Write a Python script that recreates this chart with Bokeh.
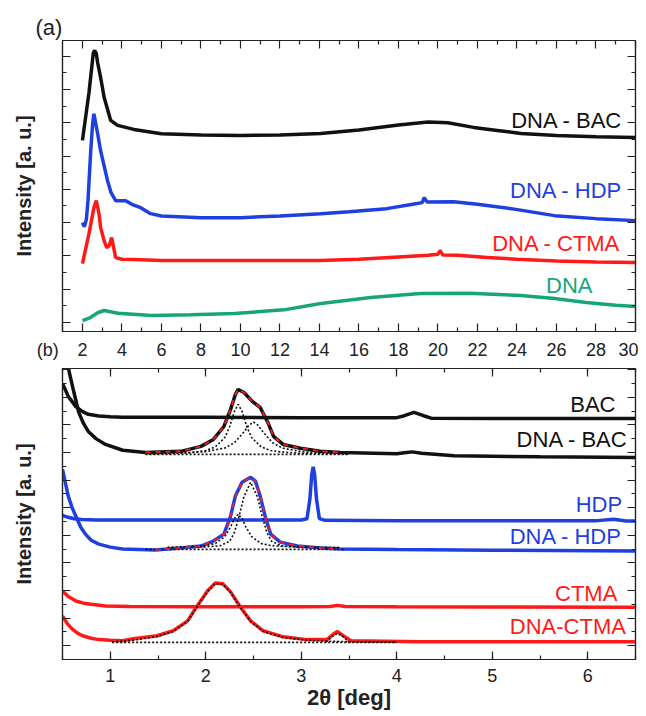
from bokeh.plotting import figure
from bokeh.models import Range1d, LinearAxis, SingleIntervalTicker, FixedTicker, ColumnDataSource
from bokeh.layouts import column
from bokeh.embed import file_html
from bokeh.resources import INLINE
from bokeh.core.properties import value

FONT = "Liberation Sans"
BLACK = "#111111"
BLUE = "#1f3fe0"
RED = "#ff1a1a"
GREEN = "#18a57a"
AX = "#222222"

# ---------------- Panel (a) data ----------------
bac_a_x = [2.0, 2.33, 2.55, 2.62, 2.7, 2.77, 2.92, 3.1, 3.43, 3.78, 4.6, 6.0, 8.0, 10.0, 12.0, 14.06, 16.0, 18.0, 19.5, 20.5, 21.8, 23.0, 24.2, 26.0, 28.0, 30.0]
bac_a_y = [5.47, 6.9, 8.1, 8.17, 8.08, 7.8, 7.36, 6.76, 6.07, 5.92, 5.8, 5.67, 5.63, 5.62, 5.63, 5.68, 5.78, 5.93, 6.02, 6.0, 5.86, 5.77, 5.68, 5.62, 5.58, 5.56]

hdp_a_x = [2.0, 2.1, 2.2, 2.28, 2.42, 2.52, 2.58, 2.65, 2.77, 2.92, 3.1, 3.27, 3.45, 3.68, 3.95, 4.19, 4.5, 4.95, 5.45, 6.0, 8.0, 10.0, 12.0, 14.06, 15.5, 17.4, 18.8, 19.2, 19.3, 19.45, 20.8, 22.0, 23.7, 25.9, 28.0, 30.0]
hdp_a_y = [3.0, 2.88, 3.1, 3.66, 5.16, 6.0, 6.27, 6.05, 5.67, 5.16, 4.7, 4.26, 3.9, 3.66, 3.66, 3.66, 3.55, 3.45, 3.27, 3.2, 3.15, 3.15, 3.2, 3.27, 3.33, 3.42, 3.56, 3.6, 3.75, 3.62, 3.63, 3.55, 3.42, 3.21, 3.12, 3.06]

ctma_a_x = [2.0, 2.33, 2.58, 2.7, 2.83, 2.92, 3.1, 3.23, 3.35, 3.48, 3.58, 3.68, 4.0, 4.6, 6.0, 8.0, 10.0, 12.0, 14.0, 16.0, 18.0, 19.5, 20.0, 20.1, 20.25, 21.0, 22.5, 24.0, 26.0, 28.0, 30.0]
ctma_a_y = [1.77, 2.67, 3.45, 3.66, 3.3, 2.85, 2.45, 2.25, 2.3, 2.55, 2.25, 1.95, 1.9, 1.89, 1.86, 1.86, 1.86, 1.86, 1.86, 1.9, 1.97, 2.02, 2.05, 2.16, 2.03, 2.02, 1.95, 1.9, 1.85, 1.82, 1.80]

dna_a_x = [2.0, 2.4, 2.8, 3.1, 3.8, 5.5, 7.5, 9.7, 12.2, 14.06, 16.6, 19.1, 21.6, 24.2, 25.9, 27.5, 29.0, 30.0]
dna_a_y = [0.06, 0.15, 0.3, 0.36, 0.28, 0.21, 0.23, 0.27, 0.38, 0.57, 0.75, 0.87, 0.88, 0.81, 0.72, 0.6, 0.52, 0.48]

labels_a_text = ["DNA - BAC", "DNA - HDP", "DNA - CTMA", "DNA"]
labels_a_x = [29.34, 29.34, 29.24, 27.82]
labels_a_y = [6.07, 3.96, 2.37, 1.11]
labels_a_color = [BLACK, BLUE, RED, GREEN]

xticks_a = [2, 4, 6, 8, 10, 12, 14, 16, 18, 20, 22, 24, 26, 28, 30]
panel_a_label = "(a)"
panel_b_label = "(b)"

# ---------------- Panel (b) data ----------------
bac_b_x = [0.5, 0.56, 0.64, 0.71, 0.77, 0.88, 1.0, 1.13, 2.0, 3.0, 4.0, 4.08, 4.18, 4.28, 4.36, 5.0, 6.0, 6.5]
bac_b_y = [9.5, 9.03, 8.66, 8.48, 8.38, 8.32, 8.29, 8.27, 8.27, 8.26, 8.26, 8.33, 8.45, 8.33, 8.24, 8.23, 8.23, 8.23]

dna_bac_b_x = [0.52, 0.56, 0.62, 0.67, 0.72, 0.77, 0.85, 0.95, 1.13, 1.37, 1.74, 1.95, 2.08, 2.19, 2.26, 2.31, 2.34, 2.4, 2.49, 2.57, 2.65, 2.71, 2.81, 2.99, 3.2, 3.41, 4.0, 4.08, 4.16, 4.26, 4.6, 5.5, 6.5]
dna_bac_b_y = [11.5, 10.07, 9.17, 8.45, 8.05, 7.76, 7.5, 7.29, 7.08, 7.0, 7.04, 7.22, 7.47, 7.94, 8.56, 9.1, 9.28, 9.17, 8.84, 8.63, 8.09, 7.58, 7.29, 7.15, 7.04, 7.0, 6.95, 6.99, 7.02, 6.97, 6.88, 6.84, 6.82]

bac_c1_x = [1.4, 1.7, 1.9, 2.0, 2.1, 2.2, 2.25, 2.3, 2.34, 2.38, 2.43, 2.48, 2.58, 2.68, 2.78, 2.98, 3.3, 3.5]
bac_c1_y = [6.95, 6.97, 7.02, 7.07, 7.2, 7.54, 7.93, 8.49, 8.74, 8.49, 7.93, 7.54, 7.2, 7.07, 7.02, 6.97, 6.95, 6.95]
bac_c2_x = [1.4, 1.8, 2.0, 2.2, 2.3, 2.4, 2.45, 2.5, 2.55, 2.6, 2.7, 2.8, 3.0, 3.2, 3.5]
bac_c2_y = [6.95, 6.98, 7.03, 7.16, 7.35, 7.74, 7.98, 8.1, 7.98, 7.74, 7.35, 7.16, 7.03, 6.98, 6.96]
bac_base_x = [1.37, 3.5]
bac_base_y = [6.93, 6.93]

hdp_b_x = [0.5, 0.55, 0.62, 0.7, 0.85, 1.2, 2.0, 3.0, 3.06, 3.09, 3.11, 3.125, 3.14, 3.16, 3.19, 3.25, 4.0, 5.0, 6.1, 6.27, 6.4, 6.5]
hdp_b_y = [4.72, 4.66, 4.6, 4.57, 4.55, 4.55, 4.55, 4.55, 4.6, 5.3, 6.2, 6.48, 6.2, 5.3, 4.6, 4.54, 4.53, 4.53, 4.53, 4.58, 4.52, 4.52]

dna_hdp_b_x = [0.5, 0.56, 0.6, 0.64, 0.69, 0.74, 0.8, 0.88, 1.0, 1.13, 1.47, 1.74, 1.95, 2.08, 2.19, 2.26, 2.31, 2.38, 2.47, 2.52, 2.57, 2.63, 2.68, 2.78, 2.96, 3.2, 3.41, 4.0, 5.0, 6.5]
dna_hdp_b_y = [6.39, 5.42, 5.0, 4.69, 4.3, 4.04, 3.82, 3.68, 3.57, 3.5, 3.47, 3.54, 3.61, 3.79, 4.04, 4.69, 5.42, 5.92, 6.1, 5.96, 5.42, 4.58, 4.04, 3.75, 3.61, 3.54, 3.5, 3.48, 3.46, 3.43]

hdp_c1_x = [1.6, 1.9, 2.0, 2.1, 2.2, 2.26, 2.3, 2.34, 2.38, 2.42, 2.48, 2.58, 2.68, 2.78, 3.1, 3.4]
hdp_c1_y = [3.56, 3.6, 3.63, 3.7, 3.95, 4.3, 4.6, 4.77, 4.6, 4.3, 3.95, 3.7, 3.63, 3.6, 3.56, 3.55]
hdp_c2_x = [1.6, 2.0, 2.15, 2.25, 2.3, 2.35, 2.4, 2.47, 2.54, 2.59, 2.64, 2.69, 2.79, 2.94, 3.4]
hdp_c2_y = [3.55, 3.58, 3.62, 3.78, 4.1, 4.7, 5.4, 5.92, 5.4, 4.7, 4.1, 3.78, 3.62, 3.58, 3.55]
hdp_base_x = [1.37, 3.45]
hdp_base_y = [3.49, 3.49]

ctma_b_x = [0.5, 0.56, 0.64, 0.72, 0.8, 0.95, 1.2, 2.0, 3.0, 3.3, 3.38, 3.46, 4.0, 5.0, 6.5]
ctma_b_y = [1.98, 1.78, 1.62, 1.54, 1.5, 1.44, 1.42, 1.41, 1.41, 1.42, 1.46, 1.42, 1.41, 1.40, 1.39]

dna_ctma_b_x = [0.5, 0.55, 0.6, 0.66, 0.71, 0.8, 0.88, 1.0, 1.13, 1.24, 1.49, 1.66, 1.81, 1.91, 2.02, 2.1, 2.18, 2.26, 2.36, 2.47, 2.6, 2.81, 3.06, 3.27, 3.34, 3.38, 3.44, 3.52, 4.25, 5.0, 6.5]
dna_ctma_b_y = [1.08, 0.8, 0.61, 0.45, 0.36, 0.27, 0.22, 0.2, 0.18, 0.25, 0.36, 0.54, 0.9, 1.44, 1.99, 2.27, 2.24, 1.95, 1.41, 0.9, 0.54, 0.32, 0.22, 0.22, 0.43, 0.51, 0.36, 0.18, 0.14, 0.14, 0.14]

ctma_c1_x = [1.02, 1.24, 1.49, 1.66, 1.81, 1.91, 2.02, 2.1, 2.18, 2.26, 2.36, 2.47, 2.6, 2.81, 3.06, 3.3, 3.6, 4.0]
ctma_c1_y = [0.14, 0.2, 0.33, 0.52, 0.88, 1.42, 1.97, 2.25, 2.22, 1.93, 1.39, 0.88, 0.52, 0.3, 0.2, 0.16, 0.14, 0.13]
ctma_c2_x = [3.26, 3.32, 3.38, 3.44, 3.5]
ctma_c2_y = [0.13, 0.33, 0.45, 0.33, 0.13]
ctma_base_x = [1.02, 4.0]
ctma_base_y = [0.12, 0.12]

labels_b_text = ["BAC", "DNA - BAC", "HDP", "DNA - HDP", "CTMA", "DNA-CTMA"]
labels_b_x = [6.29, 6.42, 6.36, 6.36, 6.31, 6.4]
labels_b_y = [8.74, 7.47, 5.13, 3.97, 1.88, 0.69]
labels_b_color = [BLACK, BLACK, BLUE, BLUE, RED, RED]


def base_axis_style(ax, show_labels, standoff=8):
    ax.axis_line_color = AX
    ax.axis_line_width = 1.2
    ax.major_tick_line_color = AX
    ax.minor_tick_line_color = AX
    ax.major_tick_in = 8
    ax.major_tick_out = 0
    ax.minor_tick_in = 4
    ax.minor_tick_out = 0
    ax.major_tick_line_width = 1.2
    ax.minor_tick_line_width = 1.2
    if show_labels:
        ax.major_label_text_font = FONT
        ax.major_label_text_font_size = "18px"
        ax.major_label_text_color = AX
        ax.major_label_standoff = standoff
    else:
        ax.major_label_text_font_size = "0px"
        ax.major_label_standoff = 0


def make_fig(xr, yr, xticker, xticker_top, height, mb_top, mb_bottom, xlabel, standoff):
    p = figure(width=638, height=height, x_range=Range1d(*xr), y_range=Range1d(*yr),
               output_backend="svg", toolbar_location=None,
               min_border_left=62, min_border_right=3,
               min_border_top=mb_top, min_border_bottom=mb_bottom)
    p.grid.visible = False
    p.outline_line_color = AX
    p.outline_line_width = 1.2
    p.background_fill_color = "white"
    p.border_fill_color = "white"
    p.xaxis.ticker = xticker
    p.yaxis.ticker = SingleIntervalTicker(interval=1, num_minor_ticks=2)
    base_axis_style(p.xaxis[0], True, standoff)
    base_axis_style(p.yaxis[0], False)
    p.yaxis.axis_label = "Intensity [a. u.]"
    p.yaxis.axis_label_text_font = FONT
    p.yaxis.axis_label_text_font_size = "20px"
    p.yaxis.axis_label_text_font_style = "bold"
    p.yaxis.axis_label_text_color = AX
    p.yaxis.axis_label_standoff = 28
    if xlabel:
        p.xaxis.axis_label = xlabel
        p.xaxis.axis_label_text_font = FONT
        p.xaxis.axis_label_text_font_size = "22px"
        p.xaxis.axis_label_text_font_style = "bold"
        p.xaxis.axis_label_text_color = AX
        p.xaxis.axis_label_standoff = 0
    top = LinearAxis(ticker=xticker_top)
    base_axis_style(top, False)
    p.add_layout(top, "above")
    right = LinearAxis(ticker=SingleIntervalTicker(interval=1, num_minor_ticks=2))
    base_axis_style(right, False)
    p.add_layout(right, "right")
    return p


# ---------------- Figure (a) ----------------
minor_a = [t + 1 for t in xticks_a[:-1]]
ticker_a = FixedTicker(ticks=[1] + xticks_a, minor_ticks=minor_a)
ticker_a_top = FixedTicker(ticks=xticks_a, minor_ticks=minor_a)
pa = make_fig((0.99, 30), (-0.27, 8.47), ticker_a, ticker_a_top, 363, 40, 32, None, 8)
# panel tag "(b)" sits in the tick-label row of panel (a), left of the frame
pa.xaxis.major_label_overrides = {1: panel_b_label + "\u00a0" * 6}
pa.title.text = panel_a_label
pa.title.text_font = FONT
pa.title.text_font_size = "22px"
pa.title.text_font_style = "normal"
pa.title.text_color = AX
pa.title.align = "left"
pa.title.offset = -27
pa.title.standoff = 2

pa.line(dna_a_x, dna_a_y, line_color=GREEN, line_width=3.5)
pa.line(ctma_a_x, ctma_a_y, line_color=RED, line_width=3.5)
pa.line(hdp_a_x, hdp_a_y, line_color=BLUE, line_width=3.5)
pa.line(bac_a_x, bac_a_y, line_color=BLACK, line_width=3.5)
src_a = ColumnDataSource(dict(x=labels_a_x, y=labels_a_y, t=labels_a_text, c=labels_a_color))
pa.text(x="x", y="y", text="t", source=src_a, text_color="c", text_align="right",
        text_baseline="middle", text_font=value(FONT), text_font_size="22px")

# ---------------- Figure (b) ----------------
ticker_b = SingleIntervalTicker(interval=1, num_minor_ticks=2)
ticker_b_top = SingleIntervalTicker(interval=1, num_minor_ticks=2)
pb = make_fig((0.5, 6.5), (-0.5, 10.04), ticker_b, ticker_b_top, 351, 5, 55, "2θ [deg]", 9)

# BAC group
pb.line(bac_b_x, bac_b_y, line_color=BLACK, line_width=3.5)
pb.line(dna_bac_b_x, dna_bac_b_y, line_color=BLACK, line_width=3.5)
for cx, cy in [(bac_c1_x, bac_c1_y), (bac_c2_x, bac_c2_y), (bac_base_x, bac_base_y)]:
    pb.line(cx, cy, line_color=BLACK, line_width=1.6, line_dash="2 2")
fit_bac_x = [x for x in dna_bac_b_x if 1.37 <= x <= 3.41]
fit_bac_y = [y for x, y in zip(dna_bac_b_x, dna_bac_b_y) if 1.37 <= x <= 3.41]
pb.line(fit_bac_x, fit_bac_y, line_color=RED, line_width=1.8, line_dash="5 5")

# HDP group
pb.line(hdp_b_x, hdp_b_y, line_color=BLUE, line_width=3.5)
pb.line(dna_hdp_b_x, dna_hdp_b_y, line_color=BLUE, line_width=3.5)
for cx, cy in [(hdp_c1_x, hdp_c1_y), (hdp_c2_x, hdp_c2_y), (hdp_base_x, hdp_base_y)]:
    pb.line(cx, cy, line_color=BLACK, line_width=1.6, line_dash="2 2")
fit_hdp_x = [x for x in dna_hdp_b_x if 1.37 <= x <= 3.41]
fit_hdp_y = [y for x, y in zip(dna_hdp_b_x, dna_hdp_b_y) if 1.37 <= x <= 3.41]
pb.line(fit_hdp_x, fit_hdp_y, line_color=RED, line_width=1.8, line_dash="5 5")

# CTMA group
pb.line(ctma_b_x, ctma_b_y, line_color=RED, line_width=3.5)
pb.line(dna_ctma_b_x, dna_ctma_b_y, line_color=RED, line_width=3.5)
for cx, cy in [(ctma_c1_x, ctma_c1_y), (ctma_c2_x, ctma_c2_y), (ctma_base_x, ctma_base_y)]:
    pb.line(cx, cy, line_color=BLACK, line_width=1.6, line_dash="2 2")

src_b = ColumnDataSource(dict(x=labels_b_x, y=labels_b_y, t=labels_b_text, c=labels_b_color))
pb.text(x="x", y="y", text="t", source=src_b, text_color="c", text_align="right",
        text_baseline="middle", text_font=value(FONT), text_font_size="22px")

layout = column(pa, pb, spacing=0)
open("out.html", "w").write(file_html(layout, INLINE))
